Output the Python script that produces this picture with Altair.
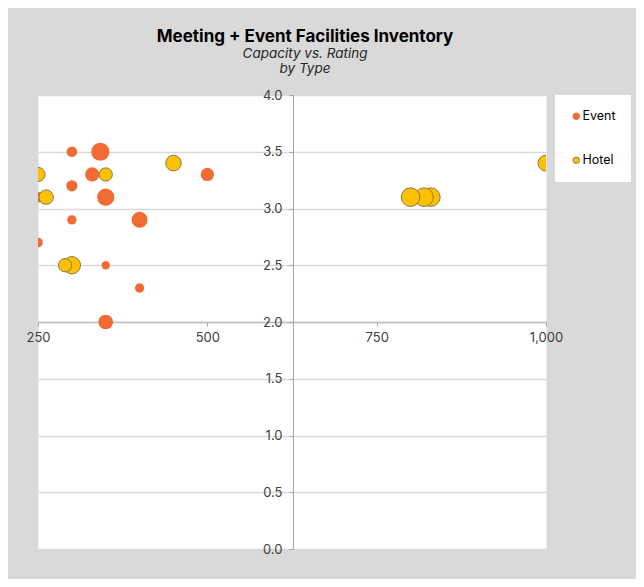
import altair as alt
import pandas as pd

# ---- data ----
types = ["Event", "Hotel"]

event_capacity = [300, 342, 500, 330, 300, 250, 350, 300, 400, 250, 350, 400, 350]
event_rating = [3.5, 3.5, 3.3, 3.3, 3.2, 3.1, 3.1, 2.9, 2.9, 2.7, 2.5, 2.3, 2.0]
event_size = [3.6, 10.6, 5.6, 6.4, 4.0, 3.6, 9.4, 2.8, 8.1, 3.0, 2.2, 2.8, 6.9]

hotel_capacity = [250, 262, 350, 450, 300, 290, 830, 820, 800, 1000]
hotel_rating = [3.3, 3.1, 3.3, 3.4, 2.5, 2.5, 3.1, 3.1, 3.1, 3.4]
hotel_size = [6.4, 6.7, 5.6, 7.7, 9.6, 5.6, 11.0, 11.0, 11.0, 8.1]

x_ticks = [250, 500, 750, 1000]
y_ticks = [0.0, 0.5, 1.0, 1.5, 2.0, 2.5, 3.0, 3.5, 4.0]

title_text = "Meeting + Event Facilities Inventory"
subtitle_text = ["Capacity vs. Rating", "by Type"]

fill_colors = ["#F26B35", "#FFC000"]
stroke_colors = ["#F26B35", "#857B59"]

df = pd.DataFrame({
    "Type": ["Event"] * len(event_capacity) + ["Hotel"] * len(hotel_capacity),
    "Capacity": event_capacity + hotel_capacity,
    "Rating": event_rating + hotel_rating,
    "Size": event_size + hotel_size,
})

FONT = "Inter"

x_enc = alt.X(
    "Capacity:Q",
    scale=alt.Scale(domain=[250, 1000], nice=False, zero=False),
    axis=alt.Axis(
        values=x_ticks, format=",d", offset=-227, grid=False, title=None,
        labelFlush=False, labelOverlap=False,
        domainColor="#BFBFBF", domainWidth=1.5, tickColor="#A6A6A6", tickSize=4,
        labelPadding=5, labelFont=FONT, labelFontSize=13, labelColor="#404040",
    ),
)
y_enc = alt.Y(
    "Rating:Q",
    scale=alt.Scale(domain=[0, 4], nice=False, zero=True),
    axis=alt.Axis(
        values=y_ticks, format=".1f", offset=-255, grid=True, title=None,
        labelFlush=False,
        gridColor="#D9D9D9", gridWidth=1.5,
        domainColor="#A6A6A6", domainWidth=1, tickColor="#A6A6A6", tickSize=4,
        labelPadding=7, labelFont=FONT, labelFontSize=13, labelColor="#404040",
    ),
)
legend = alt.Legend(
    title=None, orient="none", legendX=517, legendY=0,
    fillColor="white", padding=15, rowPadding=31,
    labelFont=FONT, labelFontSize=12.5, labelColor="black", labelOffset=0,
    symbolType="circle", symbolSize=42, symbolStrokeWidth=1,
)
color_enc = alt.Color("Type:N", scale=alt.Scale(domain=types, range=fill_colors), legend=legend)
stroke_enc = alt.Stroke("Type:N", scale=alt.Scale(domain=types, range=stroke_colors), legend=legend)
size_enc = alt.Size("Size:Q", scale=alt.Scale(domain=[0, 12], range=[0, 377]), legend=None)

base = alt.Chart(df).encode(x=x_enc, y=y_enc, color=color_enc, stroke=stroke_enc, size=size_enc)

events = base.transform_filter(alt.datum.Type == "Event").mark_circle(opacity=1, strokeWidth=0, clip=True)
hotels = base.transform_filter(alt.datum.Type == "Hotel").mark_circle(opacity=1, strokeWidth=1, clip=True)

chart = alt.layer(events, hotels).properties(
    width=508,
    height=454,
    autosize=alt.AutoSizeParams(type="none"),
    padding={"left": 30, "top": 87, "right": 90, "bottom": 30},
    background="#D9D9D9",
    title=alt.TitleParams(
        text=title_text, subtitle=subtitle_text, anchor="middle", dx=13, offset=13,
        font=FONT, fontSize=17, fontWeight="bold", color="black",
        subtitleFont=FONT, subtitleFontSize=13.5, subtitleFontStyle="italic",
        subtitleColor="#262626", subtitleLineHeight=14.5, subtitlePadding=1,
    ),
).configure_view(fill="white", stroke="transparent")

chart.save("out.html", embed_options={"renderer": "svg", "actions": False})
